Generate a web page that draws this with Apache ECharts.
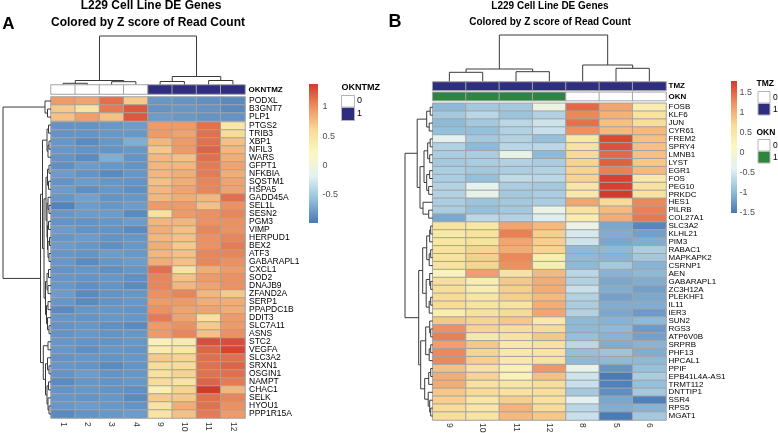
<!DOCTYPE html>
<html><head><meta charset="utf-8">
<script src="https://cdn.jsdelivr.net/npm/echarts@6/dist/echarts.min.js"></script>
<style>html,body{margin:0;padding:0;background:#fff}#c{width:778px;height:433px}</style>
</head><body><div id="c"></div><script>
// ---------------- DATA: panel A ----------------
var colsA = ['1','2','3','4','9','10','11','12'];
var annA = [0,0,0,0,1,1,1,1];            // OKNTMZ
var genesA = ['PODXL','B3GNT7','PLP1','PTGS2','TRIB3','XBP1','NFIL3','WARS','GFPT1','NFKBIA','SQSTM1','HSPA5','GADD45A','SEL1L','SESN2','PGM3','VIMP','HERPUD1','BEX2','ATF3','GABARAPL1','CXCL1','SOD2','DNAJB9','ZFAND2A','SERP1','PPAPDC1B','DDIT3','SLC7A11','ASNS','STC2','VEGFA','SLC3A2','SRXN1','OSGIN1','NAMPT','CHAC1','SELK','HYOU1','PPP1R15A'];
var zA = [
[0.95,0.9,1.15,0.7,-0.81,-0.83,-0.85,-0.88],
[0.7,0.5,1.1,1.25,-0.83,-0.81,-0.83,-0.88],
[0.75,0.92,0.75,1.25,-0.78,-0.8,-0.83,-0.83],
[-0.83,-0.83,-0.81,-0.78,0.95,0.95,1.15,0.45],
[-0.83,-0.83,-0.81,-0.8,0.95,0.9,1.15,0.6],
[-0.81,-0.88,-0.81,-0.68,0.8,0.95,1.15,0.75],
[-0.81,-0.83,-0.83,-0.81,0.7,0.95,1.2,0.8],
[-0.83,-0.88,-0.68,-0.83,0.8,0.75,1.15,0.85],
[-0.85,-0.78,-0.81,-0.83,0.8,0.8,1.1,0.9],
[-0.78,-0.83,-0.88,-0.81,0.8,0.85,1.1,0.85],
[-0.83,-0.78,-0.81,-0.83,0.75,0.85,1.05,0.9],
[-0.78,-0.85,-0.81,-0.85,0.8,0.9,1.05,0.9],
[-0.81,-0.75,-0.83,-0.81,0.8,0.85,0.8,1.15],
[-0.92,-0.78,-0.81,-0.78,0.95,0.95,0.75,1.0],
[-0.81,-0.78,-0.78,-0.88,0.55,0.95,1.0,1.05],
[-0.83,-0.83,-0.81,-0.78,0.8,0.8,1.0,1.0],
[-0.78,-0.83,-0.83,-0.88,0.85,0.75,1.05,1.0],
[-0.81,-0.78,-0.83,-0.81,0.8,0.75,1.0,1.05],
[-0.78,-0.81,-0.85,-0.81,0.85,0.7,1.0,1.1],
[-0.81,-0.83,-0.78,-0.8,0.8,0.75,1.05,1.05],
[-0.81,-0.88,-0.81,-0.78,0.85,0.75,1.05,1.0],
[-0.83,-0.81,-0.85,-0.81,1.15,0.5,0.85,0.95],
[-0.81,-0.83,-0.81,-0.85,1.05,0.75,0.95,1.0],
[-0.81,-0.85,-0.83,-0.88,1.05,0.8,0.9,1.0],
[-0.78,-0.88,-0.83,-0.81,1.0,1.05,0.8,0.7],
[-0.81,-0.88,-0.83,-0.81,0.95,0.95,0.85,0.85],
[-0.88,-0.81,-0.81,-0.83,1.0,0.9,0.9,0.85],
[-0.81,-0.83,-0.81,-0.81,1.1,0.9,0.55,0.95],
[-0.83,-0.81,-0.85,-0.88,0.95,1.0,0.7,0.95],
[-0.83,-0.81,-0.83,-0.81,0.95,1.05,0.75,1.0],
[-0.81,-0.83,-0.83,-0.81,0.3,0.4,1.3,1.3],
[-0.81,-0.85,-0.81,-0.83,0.4,0.45,1.2,1.35],
[-0.83,-0.81,-0.83,-0.81,0.7,0.65,1.15,1.15],
[-0.81,-0.83,-0.88,-0.83,0.6,0.6,1.15,1.2],
[-0.83,-0.78,-0.83,-0.81,0.55,0.65,1.15,1.15],
[-0.88,-0.81,-0.83,-0.81,0.6,0.5,1.2,1.1],
[-0.83,-0.81,-0.83,-0.85,0.35,0.65,1.39,0.8],
[-0.81,-0.83,-0.81,-0.88,0.7,0.7,1.15,1.05],
[-0.81,-0.78,-0.81,-0.83,0.5,0.85,1.15,1.0],
[-0.88,-0.83,-0.81,-0.78,0.5,0.75,1.1,0.95]
];
var rangeA = [-0.98, 1.39];
var tickValsA = [1, 0.5, 0, -0.5];
var tickLabelsA = ['1','0.5','0','-0.5'];
// dendrograms: node = [height, left, right], leaf = display index
var colTreeA = [49, [4.5, [1.7, 0, 1], [3.3, 2, 3]], [8.5, [3.5, 4, 5], [4.5, 6, 7]]];
var rowTreeA = [48,
  [6, 0, [3.5, 1, 2]],
  [10.5,
    [8.5,
      [4, [2.5, 3, 4], [3, [2, 5, 6], 7]],
      [7,
        [5, [3.5, [2, 8, 9], [2.5, 10, 11]], [4, [3, 12, [2, 13, 14]], [3.5, [2.5, 15, 16], [3, [1.5, 17, 18], [2, 19, 20]]]]],
        [5.5, [4, [2.5, 21, 22], [3, 23, 24]], [4.5, [3, 25, 26], [3.5, 27, [2, 28, 29]]]]]],
    [7.7, [3, 30, 31], [5.5, [3.5, 32, [2, 33, 34]], [4, [2.5, 35, 36], [3, 37, [2, 38, 39]]]]]]];

// ---------------- DATA: panel B ----------------
var colsB = ['9','10','11','12','8','5','6'];
var tmzB = [1,1,1,1,1,1,1];
var oknB = [1,1,1,1,0,0,0];
var genesB = ['FOSB','KLF6','JUN','CYR61','FREM2','SPRY4','LMNB1','LYST','EGR1','FOS','PEG10','PRKDC','HES1','PILRB','COL27A1','SLC3A2','KLHL21','PIM3','RABAC1','MAPKAPK2','CSRNP1','AEN','GABARAPL1','ZC3H12A','PLEKHF1','IL11','IER3','SUN2','RGS3','ATP6V0B','SRPRB','PHF13','HPCAL1','PPIF','EPB41L4A-AS1','TRMT112','DNTTIP1','SSR4','RPS5','MGAT1'];
var zB = [
[-1.0,-0.85,-0.85,-0.2,1.5,1.1,0.35],
[-0.85,-0.7,-0.9,-0.75,1.3,1.0,0.6],
[-1.0,-0.85,-0.7,-0.55,1.45,0.9,0.65],
[-0.95,-0.95,-0.75,-0.6,1.25,0.95,0.95],
[-0.4,-0.85,-0.75,-0.95,0.45,1.7,0.9],
[-0.75,-1.0,-0.7,-0.7,0.55,1.65,0.9],
[-0.8,-0.8,-0.3,-1.0,0.7,1.5,0.9],
[-0.85,-0.8,-0.75,-0.8,0.75,1.55,0.85],
[-0.8,-0.85,-0.8,-0.75,0.75,1.35,0.95],
[-0.8,-0.95,-0.65,-0.7,0.75,1.75,0.45],
[-0.75,-0.35,-0.8,-0.85,0.5,1.75,0.6],
[-0.75,-0.3,-0.85,-0.8,0.45,1.8,0.55],
[-0.8,-0.9,-0.85,-0.8,1.1,0.7,1.3],
[-0.8,-0.95,-0.85,-0.25,0.6,0.95,1.35],
[-1.15,-0.7,-0.75,-0.45,0.4,1.05,1.4],
[0.55,0.5,1.1,0.95,-0.25,-1.15,-1.4],
[0.45,0.6,1.35,0.8,-0.5,-1.1,-1.2],
[0.5,0.6,1.1,0.8,-0.55,-1.15,-1.1],
[0.6,0.75,1.05,0.75,-1.0,-1.0,-0.8],
[0.6,0.8,1.3,0.35,-1.0,-1.05,-0.85],
[0.6,0.75,1.25,0.35,-1.0,-0.85,-1.05],
[0.25,1.15,0.55,0.95,-0.7,-1.05,-1.0],
[0.65,0.35,0.85,1.05,-0.75,-1.15,-1.1],
[0.65,0.4,0.8,1.05,-0.6,-1.1,-1.2],
[0.7,0.5,0.8,0.95,-0.75,-1.2,-1.15],
[0.7,0.55,0.55,1.05,-0.8,-1.1,-1.1],
[0.35,0.6,0.7,1.1,-0.75,-1.15,-1.25],
[0.85,0.75,0.85,0.45,-1.0,-1.05,-1.0],
[1.25,0.75,0.65,0.7,-1.0,-1.0,-1.25],
[1.35,0.45,0.55,0.85,-0.95,-1.05,-1.2],
[1.15,0.85,0.45,0.6,-0.7,-1.1,-1.05],
[1.3,0.75,0.45,0.55,-0.95,-0.9,-1.1],
[1.3,0.8,0.45,0.6,-1.0,-1.0,-1.0],
[0.9,0.6,0.3,1.2,-0.3,-1.3,-0.95],
[1.05,0.75,0.25,0.9,-0.55,-1.5,-0.8],
[1.05,0.6,0.5,0.65,-0.6,-1.45,-0.95],
[0.85,0.7,0.6,0.65,-0.85,-1.35,-0.85],
[0.8,0.5,0.8,0.6,-0.4,-1.15,-1.45],
[0.7,0.5,1.0,0.7,-0.7,-1.1,-1.05],
[0.65,0.55,0.95,0.85,-0.6,-1.5,-0.85]
];
var rangeB = [-1.52, 1.8];
var tickValsB = [1.5, 1, 0.5, 0, -0.5, -1, -1.5];
var tickLabelsB = ['1.5','1','0.5','0','-0.5','-1','-1.5'];
var colTreeB = [46.7, [12.7, [9.4, 0, 1], [10, 2, 3]], [16.7, 4, [13.4, 5, 6]]];
var rowTreeB = [27.7,
  [15.5, [6, [2.5, 0, 1], [3.5, 2, 3]],
         [12.7, [8.7, [5, [2.5, 4, 5], [3, 6, 7]], [6, [3, 8, 9], [4, 10, 11]]], [9.7, 12, [4, 13, 14]]]],
  [14, [10, [6, [3, [2, 15, 16], 17], [3.5, [2, 18, 19], 20]], [6.5, [3, 21, [2, 22, 23]], [3.5, [2, 24, 25], 26]]],
       [12, [7, [3, 27, [2, 28, 29]], [3.5, [2, 30, 31], 32]], [8, [4, [2, 33, 34], 35], [4.5, 36, [3, 37, [2, 38, 39]]]]]]];

// ---------------- STYLE ----------------
var PAL = ['#4878B6','#93BEDA','#E2F1F3','#FCF8C2','#F8DC98','#EE9161','#D23A2C'];
var NAVY = '#2E2D7F', GREEN = '#2E8540';
var FONT = '"Liberation Sans", Arial, Helvetica, sans-serif';

function treeSegs(node, out){
  if (typeof node === 'number') return {pos: node + 0.5, h: 0};
  var l = treeSegs(node[1], out), r = treeSegs(node[2], out);
  out.push([l.pos, l.h, r.pos, r.h, node[0]]);
  return {pos: (l.pos + r.pos) / 2, h: node[0]};
}
function segsOf(t){ var o = []; treeSegs(t, o); return o; }
function dendroRender(orient){
  return function(params, api){
    var a = api.value(0), ah = api.value(1), b = api.value(2), bh = api.value(3), h = api.value(4);
    var pts = orient === 'col' ? [[a,ah],[a,h],[b,h],[b,bh]] : [[ah,a],[h,a],[h,b],[bh,b]];
    return {type:'polyline', shape:{points: pts.map(function(p){ return api.coord(p); })},
            style:{stroke:'#3a3a3a', lineWidth:1, fill:null}};
  };
}
function cbarRender(params, api){
  var p0 = api.coord([api.value(0), api.value(3)]);
  var p1 = api.coord([api.value(1), api.value(2)]);
  var stops = PAL.slice().reverse().map(function(c, i){ return {offset: i/(PAL.length-1), color: c}; });
  return {type:'rect', shape:{x:p0[0], y:p0[1], width:p1[0]-p0[0], height:p1[1]-p0[1]},
          style:{fill: new echarts.graphic.LinearGradient(0,0,0,1,stops)}};
}
function heatData(z, r0, r1){
  var d = [];
  for (var r = r0; r < r1; r++) for (var c = 0; c < z[r].length; c++) d.push([c, r - r0, z[r][c]]);
  return d;
}
function annData(a){ return a.map(function(v, i){ return [i, 0, v]; }); }

var grids = [], xAxes = [], yAxes = [], series = [];
function addGrid(g){ g.outerBoundsMode = 'none'; g.containLabel = false; grids.push(g); return grids.length - 1; }
var hidden = {show:false};
function valAxis(gi, min, max, inv){ return {type:'value', gridIndex:gi, min:min, max:max, inverse:!!inv, show:false}; }
function catX(gi, data, showLabels, fs, margin){
  return {type:'category', gridIndex:gi, data:data, axisLine:hidden, axisTick:hidden, splitLine:hidden,
    axisLabel: showLabels ? {show:true, rotate:-90, fontSize:fs, fontFamily:FONT, color:'#333', margin:margin, interval:0} : {show:false}};
}
function catY(gi, data, fs, margin, bold){
  return {type:'category', gridIndex:gi, data:data, inverse:true, position:'right', axisLine:hidden, axisTick:hidden, splitLine:hidden,
    axisLabel:{show:true, fontSize:fs, fontFamily:FONT, color:'#000', margin:margin, interval:0, fontWeight: bold ? 'bold' : 'normal'}};
}
var cellStyle = {borderColor:'#a3a3a3', borderWidth:1};
function heat(gi, data){
  series.push({type:'heatmap', xAxisIndex:gi, yAxisIndex:gi, data:data, itemStyle:cellStyle, emphasis:{disabled:true}, silent:true, progressive:0});
  return series.length - 1;
}
function dendro(gi, tree, orient){
  series.push({type:'custom', xAxisIndex:gi, yAxisIndex:gi, data:segsOf(tree), renderItem:dendroRender(orient), silent:true, clip:false});
}
function cbar(gi, range, vals, labels, dist){
  series.push({type:'custom', xAxisIndex:gi, yAxisIndex:gi, data:[[0,1,range[0],range[1]]], renderItem:cbarRender, silent:true, clip:false});
  series.push({type:'scatter', xAxisIndex:gi, yAxisIndex:gi, symbolSize:1, itemStyle:{color:'rgba(0,0,0,0)'}, silent:true,
    data: vals.map(function(v){ return [1, v]; }),
    label:{show:true, position:'right', distance:dist, fontSize:9, fontFamily:FONT, color:'#222',
      formatter:function(p){ return labels[p.dataIndex]; }}});
}

// ---- Panel A layout ----
var AL = 51, AW = 194;
var gAcd = addGrid({left:AL, top:30, width:AW, height:55});
xAxes.push(valAxis(gAcd, 0, colsA.length)); yAxes.push(valAxis(gAcd, 0, 55));
dendro(gAcd, colTreeA, 'col');

var gAann = addGrid({left:AL, top:85, width:AW, height:9});
xAxes.push(catX(gAann, colsA, false)); yAxes.push(catY(gAann, ['OKNTMZ'], 8, 3.5, true));
var sAann = heat(gAann, annData(annA));

var gAh1 = addGrid({left:AL, top:97, width:AW, height:24});
xAxes.push(catX(gAh1, colsA, false)); yAxes.push(catY(gAh1, genesA.slice(0,3), 8.5, 4));
var sAh1 = heat(gAh1, heatData(zA, 0, 3));

var gAh2 = addGrid({left:AL, top:122, width:AW, height:296});
xAxes.push(catX(gAh2, colsA, true, 8.5, 4)); yAxes.push(catY(gAh2, genesA.slice(3), 8.5, 4));
var sAh2 = heat(gAh2, heatData(zA, 3, genesA.length));

var gArd = addGrid({left:2, top:97, width:49, height:321});
xAxes.push(valAxis(gArd, 0, 49, true)); yAxes.push(valAxis(gArd, 0, genesA.length, true));
dendro(gArd, rowTreeA, 'row');

var gAcb = addGrid({left:309, top:84, width:9, height:139});
xAxes.push(valAxis(gAcb, 0, 1)); yAxes.push(valAxis(gAcb, rangeA[0], rangeA[1]));
cbar(gAcb, rangeA, tickValsA, tickLabelsA, 4);

// ---- Panel B layout ----
var BL = 432.7, BW = 233.3;
var gBcd = addGrid({left:BL, top:30, width:BW, height:51.7});
xAxes.push(valAxis(gBcd, 0, colsB.length)); yAxes.push(valAxis(gBcd, 0, 51.7));
dendro(gBcd, colTreeB, 'col');

var gBt = addGrid({left:BL, top:82, width:BW, height:8.3});
xAxes.push(catX(gBt, colsB, false)); yAxes.push(catY(gBt, ['TMZ'], 8, 2.5, true));
var sBt = heat(gBt, annData(tmzB));

var gBo = addGrid({left:BL, top:92.3, width:BW, height:8.3});
xAxes.push(catX(gBo, colsB, false)); yAxes.push(catY(gBo, ['OKN'], 8, 2.5, true));
var sBo = heat(gBo, annData(oknB));

var gBh = addGrid({left:BL, top:103.3, width:BW, height:316.7});
xAxes.push(catX(gBh, colsB, true, 8.5, 3)); yAxes.push(catY(gBh, genesB, 8, 2.5));
var sBh = heat(gBh, heatData(zB, 0, genesB.length));

var gBrd = addGrid({left:404, top:103.3, width:28.7, height:316.7});
xAxes.push(valAxis(gBrd, 0, 28.7, true)); yAxes.push(valAxis(gBrd, 0, genesB.length, true));
dendro(gBrd, rowTreeB, 'row');

var gBcb = addGrid({left:731, top:81, width:6, height:132});
xAxes.push(valAxis(gBcb, 0, 1)); yAxes.push(valAxis(gBcb, rangeB[0], rangeB[1]));
cbar(gBcb, rangeB, tickValsB, tickLabelsB, 2);

function txt(x, y, s, font, align){ return {type:'text', x:x, y:y, silent:true, style:{text:s, font:font, fill:'#000', align:align||'center', verticalAlign:'middle'}}; }
function box(x, y, w, h, fill){ return {type:'rect', silent:true, shape:{x:x, y:y, width:w, height:h}, style:{fill:fill, stroke:'#b5b5b5', lineWidth:1}}; }

var graphics = [
  txt(151, 6, 'L229 Cell Line DE Genes', 'bold 12px ' + FONT),
  txt(148, 23, 'Colored by Z score of Read Count', 'bold 12px ' + FONT),
  txt(8.5, 24, 'A', 'bold 17px ' + FONT),
  txt(550, 6, 'L229 Cell Line DE Genes', 'bold 10px ' + FONT),
  txt(550, 22.5, 'Colored by Z score of Read Count', 'bold 10px ' + FONT),
  txt(395, 22, 'B', 'bold 18px ' + FONT),
  // legend A
  txt(341.5, 88, 'OKNTMZ', 'bold 9px ' + FONT, 'left'),
  box(341.5, 95.5, 13, 11.5, '#ffffff'), box(341.5, 107.5, 13, 13, NAVY),
  txt(357, 101, '0', '9px ' + FONT, 'left'), txt(357, 114, '1', '9px ' + FONT, 'left'),
  // legend B
  txt(756.5, 84, 'TMZ', 'bold 8.5px ' + FONT, 'left'),
  box(758, 91.5, 12, 11.5, '#ffffff'), box(758, 103.5, 12, 11.5, NAVY),
  txt(773, 97.5, '0', '8.5px ' + FONT, 'left'), txt(773, 109.5, '1', '8.5px ' + FONT, 'left'),
  txt(756.5, 132.5, 'OKN', 'bold 8.5px ' + FONT, 'left'),
  box(758, 139.5, 12, 11.5, '#ffffff'), box(758, 151.5, 12, 11.5, GREEN),
  txt(773, 145.5, '0', '8.5px ' + FONT, 'left'), txt(773, 157.5, '1', '8.5px ' + FONT, 'left')
];

var option = {
  animation:false,
  backgroundColor:'#ffffff',
  textStyle:{fontFamily:FONT},
  grid:grids, xAxis:xAxes, yAxis:yAxes, series:series,
  visualMap:[
    {type:'continuous', show:false, seriesIndex:[sAh1, sAh2], dimension:2, min:rangeA[0], max:rangeA[1], inRange:{color:PAL}},
    {type:'continuous', show:false, seriesIndex:[sBh], dimension:2, min:rangeB[0], max:rangeB[1], inRange:{color:PAL}},
    {type:'piecewise', show:false, seriesIndex:[sAann, sBt], dimension:2, pieces:[{value:0, color:'#ffffff'},{value:1, color:NAVY}]},
    {type:'piecewise', show:false, seriesIndex:[sBo], dimension:2, pieces:[{value:0, color:'#ffffff'},{value:1, color:GREEN}]}
  ],
  graphic:graphics
};
var chart = echarts.init(document.getElementById('c'), null, {renderer:'canvas', width:778, height:433});
chart.setOption(option);
</script></body></html>
